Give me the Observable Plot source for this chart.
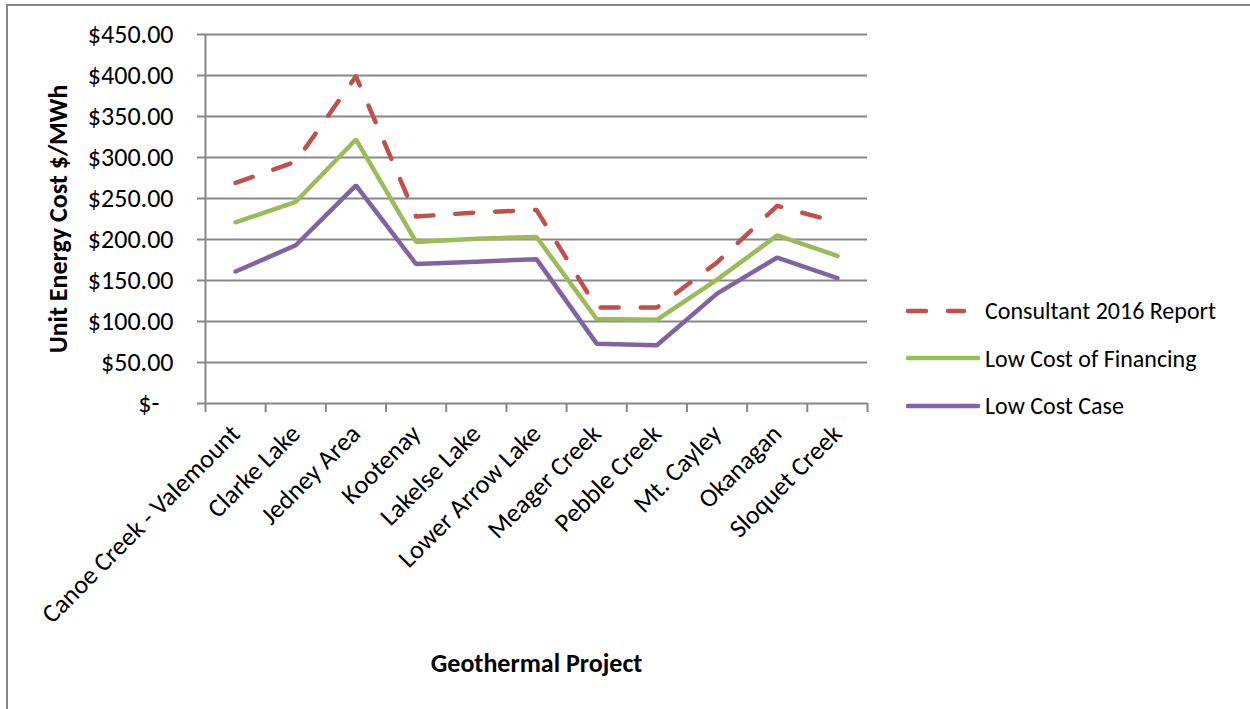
<!DOCTYPE html>
<html><head><meta charset="utf-8">
<script src="https://cdn.jsdelivr.net/npm/d3@7"></script>
<script src="https://cdn.jsdelivr.net/npm/@observablehq/plot@0.6"></script>
<style>
body{margin:0;background:#fff;}
#wrap{position:relative;width:1250px;height:709px;overflow:hidden;font-family:Carlito,Lato,sans-serif;color:#000;}
#frame{position:absolute;left:6px;top:4px;width:1300px;height:800px;border-top:2px solid #878787;border-left:2px solid #878787;box-sizing:border-box;}
#chart{position:absolute;left:0;top:0;}
#legend{position:absolute;left:906px;top:287px;}
.row{display:flex;align-items:center;height:47.5px;font-size:24px;}
.row svg{margin-right:3px;}
</style>
</head><body>
<div id="wrap"><div id="frame"></div><div id="chart"></div><div id="legend"></div></div>
<script>
const categories = ["Canoe Creek - Valemount","Clarke Lake","Jedney Area","Kootenay","Lakelse Lake","Lower Arrow Lake","Meager Creek","Pebble Creek","Mt. Cayley","Okanagan","Sloquet Creek"];
const consultant2016 = [269, 295, 399, 228, 233, 236, 117, 117, 172, 241, 221];
const lowCostFinancing = [221, 246, 322, 197, 201, 203, 103, 102, 151, 205, 180];
const lowCostCase = [161, 193, 266, 170, 173, 176, 73, 71, 134, 178, 153];
const seriesNames = ["Consultant 2016 Report", "Low Cost of Financing", "Low Cost Case"];
const seriesColors = ["#C0504D", "#9BBB59", "#8064A2"];
const yTicks = [0, 50, 100, 150, 200, 250, 300, 350, 400, 450];

const allSeries = [consultant2016, lowCostFinancing, lowCostCase];
const rows = allSeries.flatMap((vals, s) => vals.map((v, i) => ({series: seriesNames[s], i, v})));
const grey = "#878787";

const chart = Plot.plot({
  width: 1250, height: 709,
  marginLeft: 205, marginRight: 383, marginTop: 34, marginBottom: 306,
  style: {fontFamily: "Carlito, Lato, sans-serif", fontSize: "26px", color: "#000", background: "transparent"},
  x: {type: "linear", domain: [-0.5, categories.length - 0.5]},
  y: {domain: [0, 450]},
  color: {domain: seriesNames, range: seriesColors},
  marks: [
    Plot.gridY(yTicks, {stroke: grey, strokeOpacity: 1, strokeWidth: 2}),
    Plot.axisY(yTicks, {tickSize: 8, tickPadding: 24, stroke: grey, strokeWidth: 2, fontSize: 26,
      tickFormat: d => d === 0 ? "$-\u2007" : "$" + d.toFixed(2),
      label: "Unit Energy Cost $/MWh", labelAnchor: "center", labelArrow: "none", labelOffset: 157}),
    Plot.ruleX([-0.5], {stroke: grey, strokeWidth: 2}),
    Plot.axisX(d3.range(-0.5, categories.length, 1), {tickSize: 9, stroke: grey, strokeWidth: 2, tickFormat: () => "", label: null}),
    Plot.axisX(d3.range(categories.length), {tickSize: 0, tickPadding: 26, tickRotate: -45, fontSize: 26,
      tickFormat: i => categories[i], label: "Geothermal Project", labelAnchor: "center", labelArrow: "none", labelOffset: 268}),
    Plot.line(rows.filter(d => d.series !== seriesNames[0]), {x: "i", y: "v", z: "series", stroke: "series", strokeWidth: 4.5, strokeLinejoin: "miter"}),
    Plot.line(rows.filter(d => d.series === seriesNames[0]), {x: "i", y: "v", stroke: "series", strokeWidth: 4.5, strokeDasharray: "18 22", strokeLinecap: "round"})
  ]
});
document.getElementById("chart").appendChild(chart);
chart.querySelectorAll('g[aria-label="y-axis label"] text, g[aria-label="x-axis label"] text').forEach(t => t.style.fontWeight = "bold");

const legend = document.getElementById("legend");
seriesNames.forEach((name, s) => {
  const row = document.createElement("div");
  row.className = "row";
  const dashed = s === 0;
  row.innerHTML = `<svg width="76" height="10"><line x1="2" x2="${dashed ? 58 : 72}" y1="5" y2="5" stroke="${seriesColors[s]}" stroke-width="4.5" stroke-linecap="round" ${dashed ? 'stroke-dasharray="18 22"' : ""}/></svg><span>${name}</span>`;
  legend.appendChild(row);
});
</script>
</body></html>
